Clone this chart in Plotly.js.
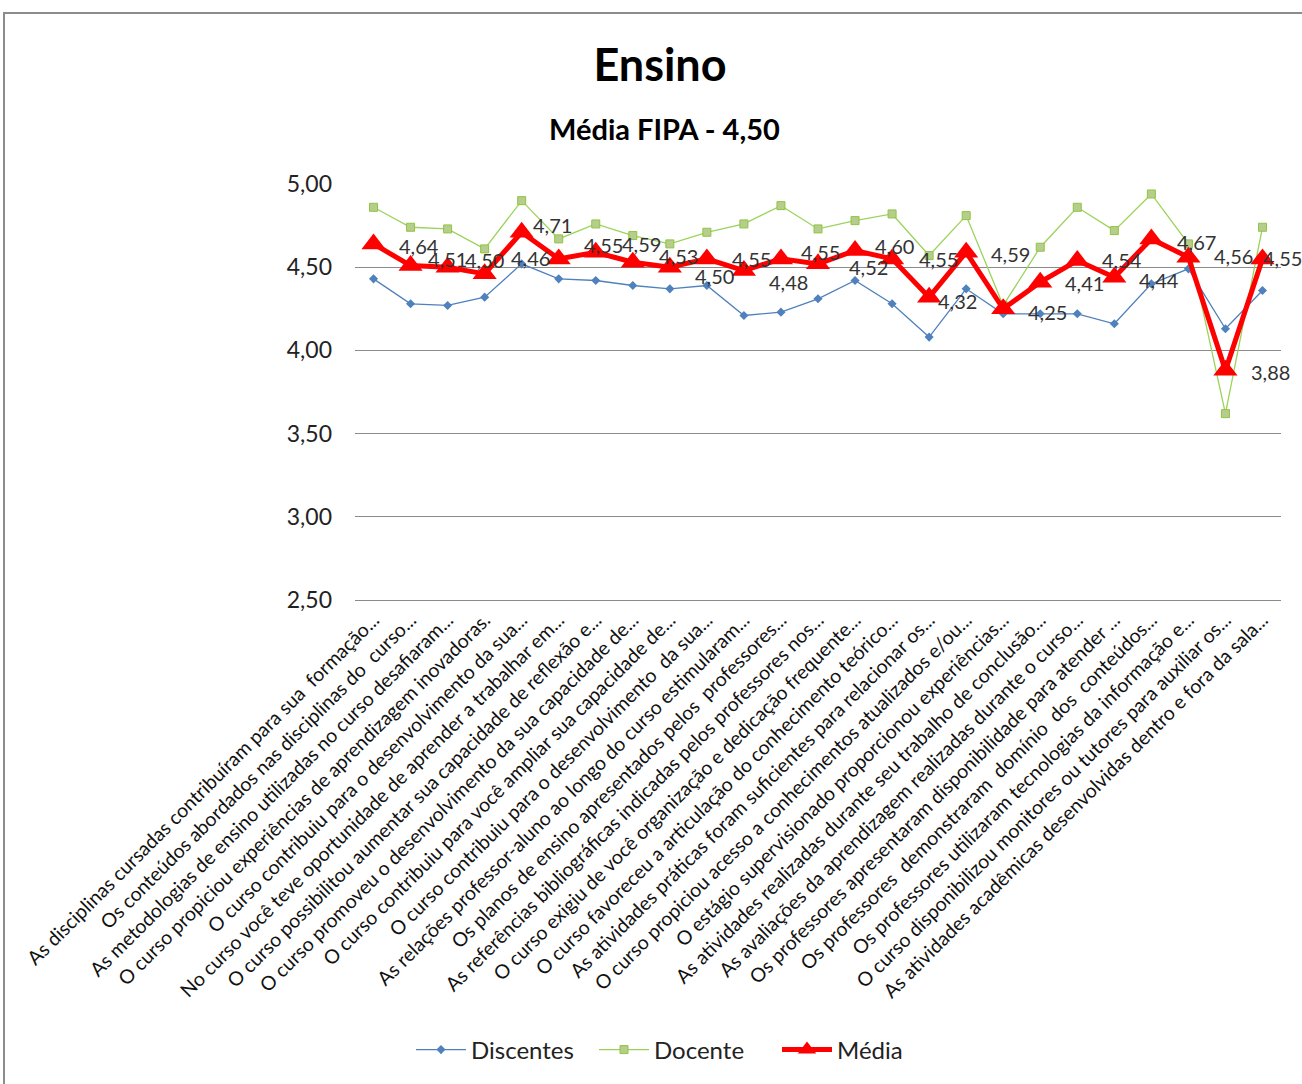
<!DOCTYPE html>
<html>
<head>
<meta charset="utf-8">
<script src="https://cdn.plot.ly/plotly-3.0.1.min.js"></script>
<style>
  html, body { margin: 0; padding: 0; background: #fff; overflow: hidden; }
  #frame { position: absolute; left: 3px; top: 12px; width: 1400px; height: 1200px;
           border-left: 2px solid #8c8c8c; border-top: 2px solid #8c8c8c; }
  #chart { position: absolute; left: 0; top: 0; width: 1302px; height: 1084px; }
</style>
</head>
<body>
<div id="frame"></div>
<div id="chart"></div>
<script>
const NB = '\u00a0';
const categories = [
  "As disciplinas cursadas contribuíram para sua" + NB + " formação...",
  "Os conteúdos abordados nas disciplinas do" + NB + " curso...",
  "As metodologias de ensino utilizadas no curso desafiaram...",
  "O curso propiciou experiências de aprendizagem inovadoras.",
  "O curso contribuiu para o desenvolvimento da sua...",
  "No curso você teve oportunidade de aprender a trabalhar em...",
  "O curso possibilitou aumentar sua capacidade de reflexão e...",
  "O curso promoveu o desenvolvimento da sua capacidade de...",
  "O curso contribuiu para você ampliar sua capacidade de...",
  "O curso contribuiu para o desenvolvimento" + NB + " da sua...",
  "As relações professor-aluno ao longo do curso estimularam...",
  "Os planos de ensino apresentados pelos" + NB + " professores...",
  "As referências bibliográficas indicadas pelos professores nos...",
  "O curso exigiu de você organização e dedicação frequente...",
  "O curso favoreceu a articulação do conhecimento teórico...",
  "As atividades práticas foram suficientes para relacionar os...",
  "O curso propiciou acesso a conhecimentos atualizados e/ou...",
  "O estágio supervisionado proporcionou experiências...",
  "As atividades realizadas durante seu trabalho de conclusão...",
  "As avaliações da aprendizagem realizadas durante o curso...",
  "Os professores apresentaram disponibilidade para atender" + NB + "...",
  "Os professores" + NB + " demonstraram" + NB + " domínio" + NB + " dos" + NB + " conteúdos...",
  "Os professores utilizaram tecnologias da informação e...",
  "O curso disponibilizou monitores ou tutores para auxiliar os...",
  "As atividades acadêmicas desenvolvidas dentro e fora da sala..."
];

const discentes = [4.43, 4.28, 4.27, 4.32, 4.52, 4.43, 4.42, 4.39, 4.37, 4.39,
                   4.21, 4.23, 4.31, 4.42, 4.28, 4.08, 4.37, 4.22, 4.22, 4.22,
                   4.16, 4.40, 4.49, 4.13, 4.36];
const docente   = [4.86, 4.74, 4.73, 4.61, 4.90, 4.67, 4.76, 4.69, 4.64, 4.71,
                   4.76, 4.87, 4.73, 4.78, 4.82, 4.57, 4.81, 4.27, 4.62, 4.86,
                   4.72, 4.94, 4.64, 3.62, 4.74];
const media     = [4.64, 4.51, 4.50, 4.46, 4.71, 4.55, 4.59, 4.53, 4.50, 4.55,
                   4.48, 4.55, 4.52, 4.60, 4.55, 4.32, 4.59, 4.25, 4.41, 4.54,
                   4.44, 4.67, 4.56, 3.88, 4.55];

const seriesNames = ["Discentes", "Docente", "Média"];
const chartTitle = "Ensino";
const chartSubtitle = "Média FIPA - 4,50";

// label placement offsets (pixels), style only
const labelDx = [45, 37, 37, 46, 31, 45, 46, 46, 45, 45, 45, 40, 50, 39, 46, 28, 44, 44, 44, 45, 45, 45, 45, 45, 20];
const labelDy = [-2, 7, 7, 16, 7, 14, 8, 6, -9, 0, -11, 7, -3, 5, 0, -4, -2, -3, -1, 1, -3, -3, 1, -2, 1];

const FONT = "Lato, 'Open Sans', sans-serif";

const traces = [
  {
    x: categories, y: discentes, name: seriesNames[0], type: 'scatter', mode: 'lines+markers',
    line: { color: '#4F81BD', width: 1.3 },
    marker: { symbol: 'diamond', size: 7, color: '#4F81BD' }
  },
  {
    x: categories, y: docente, name: seriesNames[1], type: 'scatter', mode: 'lines+markers',
    line: { color: '#9BD35A', width: 1.3 },
    marker: { symbol: 'square', size: 8, color: '#B8CC8E', line: { color: '#8CC63F', width: 1 } }
  },
  {
    x: categories, y: media, name: seriesNames[2], type: 'scatter', mode: 'lines+markers',
    line: { color: '#FF0000', width: 5 },
    marker: { symbol: 'triangle-up', size: 21, color: '#FF0000' }
  }
];

const annotations = media.map((v, i) => ({
  x: categories[i], y: v, xref: 'x', yref: 'y',
  text: v.toFixed(2).replace('.', ','),
  showarrow: false, xanchor: 'center', yanchor: 'middle',
  xshift: labelDx[i], yshift: labelDy[i],
  font: { family: FONT, size: 20, color: '#333333' }
}));

annotations.push({
  xref: 'paper', yref: 'paper', x: (664 - 355) / 926, y: 1 + (184 - 128) / 416,
  text: '<b>' + chartSubtitle + '</b>', showarrow: false,
  xanchor: 'center', yanchor: 'middle',
  font: { family: FONT, size: 29, color: '#000' }
});

const layout = {
  width: 1302, height: 1084,
  margin: { l: 355, r: 21, t: 184, b: 484 },
  paper_bgcolor: 'rgba(0,0,0,0)', plot_bgcolor: 'rgba(0,0,0,0)',
  separators: ',.',
  title: {
    text: '<b>' + chartTitle + '</b>',
    x: 660 / 1302, xanchor: 'center', xref: 'container',
    y: 1 - 65 / 1084, yanchor: 'middle', yref: 'container',
    font: { family: FONT, size: 45, color: '#000' }
  },
  showlegend: true,
  legend: {
    orientation: 'h', x: (411 - 355) / 926, xanchor: 'left',
    y: -(1050 - 600) / 416, yanchor: 'middle',
    font: { family: FONT, size: 24, color: '#222' },
    entrywidth: 118, entrywidthmode: 'pixels',
    itemwidth: 50, traceorder: 'normal'
  },
  xaxis: {
    type: 'category', range: [-0.5, 24.5], autorange: false,
    tickangle: -45, showgrid: false,
    showline: true, linecolor: '#8a8a8a', linewidth: 1,
    ticks: '', tickfont: { family: FONT, size: 19.5, color: '#111' },
    automargin: false
  },
  yaxis: {
    range: [2.5, 5.0], dtick: 0.5, tick0: 2.5, tickformat: '.2f',
    showgrid: true, gridcolor: '#8a8a8a', gridwidth: 1,
    zeroline: false, showline: false, ticks: '',
    ticklabelstandoff: 22,
    tickfont: { family: FONT, size: 23, color: '#222' },
    automargin: false
  },
  annotations: annotations
};

Plotly.newPlot('chart', traces, layout, { staticPlot: true, displayModeBar: false });
</script>
</body>
</html>
